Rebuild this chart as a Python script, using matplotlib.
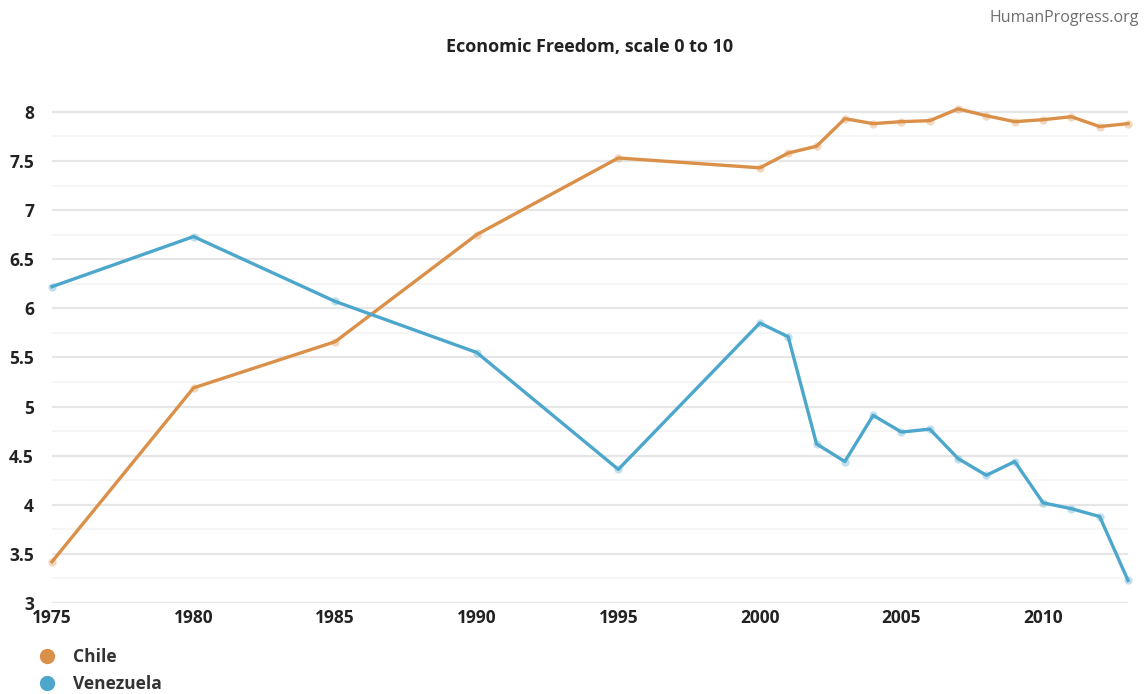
import matplotlib.pyplot as plt
import numpy as np

plt.rcParams['font.family'] = ['Open Sans', 'DejaVu Sans']

# data
years = [1975, 1980, 1985, 1990, 1995, 2000, 2001, 2002, 2003, 2004, 2005,
         2006, 2007, 2008, 2009, 2010, 2011, 2012, 2013]
chile = [3.42, 5.19, 5.66, 6.75, 7.53, 7.43, 7.58, 7.65, 7.93, 7.88, 7.90,
         7.91, 8.03, 7.96, 7.90, 7.92, 7.95, 7.85, 7.88]
venezuela = [6.22, 6.73, 6.07, 5.55, 4.36, 5.85, 5.71, 4.62, 4.44, 4.91, 4.74,
             4.77, 4.47, 4.30, 4.44, 4.02, 3.96, 3.88, 3.23]
series_names = ["Chile", "Venezuela"]
colors = ["#DB9049", "#4DA7CC"]

xticks = [1975, 1980, 1985, 1990, 1995, 2000, 2005, 2010]
yticks = [3, 3.5, 4, 4.5, 5, 5.5, 6, 6.5, 7, 7.5, 8]
ytick_labels = ["3", "3.5", "4", "4.5", "5", "5.5", "6", "6.5", "7", "7.5", "8"]

fig = plt.figure(figsize=(11.46, 6.94), dpi=100)
ax = fig.add_axes([52 / 1146, 1 - 603 / 694, (1128 - 52) / 1146, (603 - 102) / 694])

for vals, col, name in zip([chile, venezuela], colors, series_names):
    ax.plot(years, vals, color=col, lw=2.4, solid_joinstyle='round', zorder=3,
            clip_on=False, label=name)
    ax.plot(years, vals, 'o', color=col, ms=6, alpha=0.35, mec='none',
            zorder=4, clip_on=False)

ax.set_xlim(1975, 2013)
ax.set_ylim(3, 8.1)

# grid: main lines every 0.5, lighter ones at the quarters
for y in np.arange(3, 8.01, 0.25):
    major = abs(y * 2 - round(y * 2)) < 1e-6
    ax.axhline(y, color="#E6E6E6" if major else "#F3F3F3", lw=1.6 if major else 1.2,
               zorder=1)

ax.set_xticks(xticks)
ax.set_xticklabels([str(x) for x in xticks])
ax.set_yticks(yticks)
ax.set_yticklabels(ytick_labels)
ax.tick_params(length=0, labelsize=12.5, colors="#222222")
ax.tick_params(axis='x', pad=4)
ax.tick_params(axis='y', pad=13)
for lbl in ax.get_xticklabels() + ax.get_yticklabels():
    lbl.set_fontweight('bold')
for s in ax.spines.values():
    s.set_visible(False)

fig.text(590 / 1146, 1 - 47 / 694, "Economic Freedom, scale 0 to 10",
         ha='center', va='center', fontsize=13, fontweight='bold', color="#222222")
fig.text(1139 / 1146, 1 - 18 / 694, "HumanProgress.org", ha='right', va='center',
         fontsize=11.5, color="#6E6E6E")

# legend
handles = [plt.Line2D([], [], marker='o', ls='none', color=c, ms=10) for c in colors]
leg = fig.legend(handles, series_names, loc='upper left',
                 bbox_to_anchor=(30 / 1146, 1 - 641 / 694), frameon=False,
                 handletextpad=0.9, labelspacing=0.55, fontsize=12.5,
                 borderaxespad=0, handlelength=1.2)
for t in leg.get_texts():
    t.set_fontweight('bold')
    t.set_color("#333333")

fig.savefig("out.png", dpi=100)
